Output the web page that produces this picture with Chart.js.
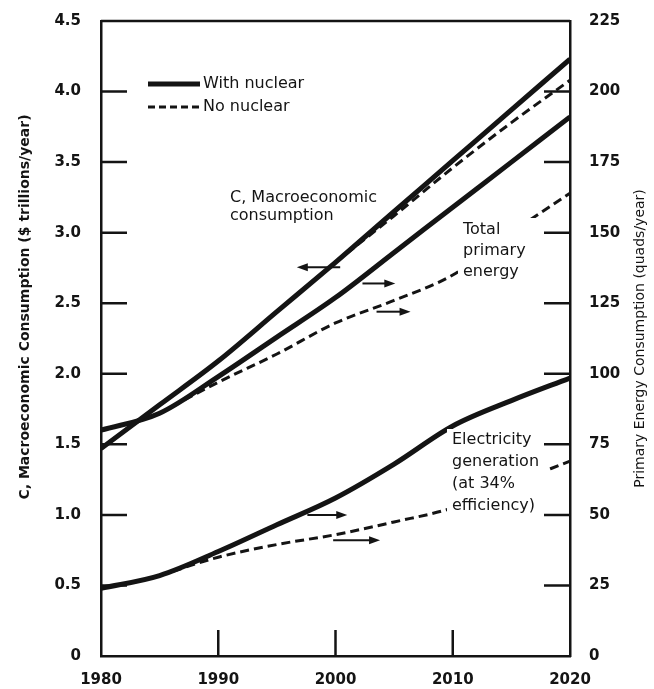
<!DOCTYPE html>
<html>
<head>
<meta charset="utf-8">
<script src="https://cdn.jsdelivr.net/npm/chart.js@4.4.1/dist/chart.umd.min.js"></script>
<style>
html, body { margin: 0; padding: 0; background: #fff; }
</style>
</head>
<body>
<canvas id="chart" width="654" height="689"></canvas>
<script>
// years on the x axis
var years = [1980, 1985, 1990, 1995, 2000, 2005, 2010, 2015, 2020];

// C, macroeconomic consumption ($ trillions/year) - left axis
var consWithNuclear = [1.47, 1.78, 2.09, 2.44, 2.79, 3.15, 3.51, 3.87, 4.23];
var consNoNuclear = [null, null, null, null, 2.79, 3.12, 3.46, 3.78, 4.08];

// total primary energy (quads/year) - right axis
var energyWithNuclear = [80, 86, 99, 113, 127, 143, 159, 175, 191];
var energyNoNuclear = [null, 86, 97, 107, 118, 126, 135, 150, 164];

// electricity generation at 34% efficiency (quads/year) - right axis
var elecWithNuclear = [24, 28.5, 37, 46.5, 56, 68, 81.5, 90.5, 98.5];
var elecNoNuclear = [null, 28.5, 35, 39.5, 43, 47.5, 52.5, 61, 69];

// tick labels
var xTicks = [1980, 1990, 2000, 2010, 2020];
var leftTicks = [0, 0.5, 1.0, 1.5, 2.0, 2.5, 3.0, 3.5, 4.0, 4.5];
var rightTicks = [0, 25, 50, 75, 100, 125, 150, 175, 200, 225];

var INK = '#141414';

function pts(arr) {
	return years.map(function(y, i) { return { x: y, y: arr[i] }; });
}

// arrows showing which axis a curve belongs to (data units)
var arrows = [
	{ axis: 'yL', y: 2.755, from: 2000.4, to: 1996.7 },
	{ axis: 'yR', y: 132, from: 2002.3, to: 2005.1 },
	{ axis: 'yR', y: 122, from: 2003.5, to: 2006.4 },
	{ axis: 'yR', y: 50, from: 1997.6, to: 2001.0 },
	{ axis: 'yR', y: 41, from: 1999.8, to: 2003.8 }
];

// text notes drawn over the plot
var notes = [
	{ x: 230, lines: ['C, Macroeconomic', 'consumption'], y0: 198, step: 18, box: null },
	{ x: 463, lines: ['Total', 'primary', 'energy'], y0: 230, step: 21, box: [458, 218, 87, 66] },
	{ x: 452, lines: ['Electricity', 'generation', '(at 34%', 'efficiency)'], y0: 440, step: 22, box: [447, 429, 99, 89] }
];

var extras = {
	id: 'extras',
	afterDatasetsDraw: function(chart) {
		var ctx = chart.ctx;
		var xs = chart.scales.x;
		ctx.save();
		// notes (white box hides the dashed line behind the text)
		notes.forEach(function(n) {
			if (n.box) {
				ctx.fillStyle = '#fff';
				ctx.fillRect(n.box[0], n.box[1], n.box[2], n.box[3]);
			}
			ctx.fillStyle = INK;
			ctx.font = '16px "DejaVu Sans"';
			ctx.textAlign = 'left';
			ctx.textBaseline = 'middle';
			n.lines.forEach(function(t, i) { ctx.fillText(t, n.x, n.y0 + i * n.step); });
		});
		// arrows
		arrows.forEach(function(a) {
			var ys = chart.scales[a.axis];
			var x1 = xs.getPixelForValue(a.from), x2 = xs.getPixelForValue(a.to);
			var y = ys.getPixelForValue(a.y);
			var dir = x2 > x1 ? 1 : -1;
			ctx.strokeStyle = INK;
			ctx.lineWidth = 2;
			ctx.beginPath();
			ctx.moveTo(x1, y);
			ctx.lineTo(x2 - dir * 8, y);
			ctx.stroke();
			ctx.fillStyle = INK;
			ctx.beginPath();
			ctx.moveTo(x2, y);
			ctx.lineTo(x2 - dir * 11, y - 4);
			ctx.lineTo(x2 - dir * 11, y + 4);
			ctx.closePath();
			ctx.fill();
		});
		// legend
		ctx.strokeStyle = INK;
		ctx.lineWidth = 5;
		ctx.beginPath(); ctx.moveTo(148, 84); ctx.lineTo(200, 84); ctx.stroke();
		ctx.lineWidth = 3;
		ctx.setLineDash([7, 4]);
		ctx.beginPath(); ctx.moveTo(148, 107); ctx.lineTo(200, 107); ctx.stroke();
		ctx.setLineDash([]);
		ctx.fillStyle = INK;
		ctx.font = '16px "DejaVu Sans"';
		ctx.textBaseline = 'middle';
		ctx.fillText('With nuclear', 203, 84);
		ctx.fillText('No nuclear', 203, 107);
		ctx.restore();
	},
	afterDraw: function(chart) {
		var ctx = chart.ctx;
		var ca = chart.chartArea;
		var xs = chart.scales.x, yl = chart.scales.yL, yr = chart.scales.yR;
		var len = 26;
		ctx.save();
		ctx.strokeStyle = INK;
		ctx.lineWidth = 2.5;
		ctx.beginPath();
		// frame top
		ctx.moveTo(ca.left, ca.top);
		ctx.lineTo(ca.right, ca.top);
		// inner tick marks
		leftTicks.slice(1, -1).forEach(function(v) {
			var p = yl.getPixelForValue(v);
			ctx.moveTo(ca.left, p); ctx.lineTo(ca.left + len, p);
		});
		rightTicks.slice(1, -1).forEach(function(v) {
			var p = yr.getPixelForValue(v);
			ctx.moveTo(ca.right, p); ctx.lineTo(ca.right - len, p);
		});
		xTicks.slice(1, -1).forEach(function(v) {
			var p = xs.getPixelForValue(v);
			ctx.moveTo(p, ca.bottom); ctx.lineTo(p, ca.bottom - len);
		});
		ctx.stroke();
		// axis titles
		ctx.fillStyle = INK;
		ctx.textAlign = 'center';
		ctx.textBaseline = 'middle';
		ctx.font = 'bold 14px "DejaVu Sans"';
		ctx.translate(25, 307);
		ctx.rotate(-Math.PI / 2);
		ctx.fillText('C, Macroeconomic Consumption ($ trillions/year)', 0, 0);
		ctx.setTransform(1, 0, 0, 1, 0, 0);
		ctx.font = '14px "DejaVu Sans"';
		ctx.translate(640, (ca.top + ca.bottom) / 2);
		ctx.rotate(-Math.PI / 2);
		ctx.fillText('Primary Energy Consumption (quads/year)', 0, 0);
		ctx.restore();
	}
};

function solid(data, axis) {
	return { data: pts(data), yAxisID: axis, borderColor: INK, borderWidth: 5, pointRadius: 0,
		cubicInterpolationMode: 'monotone', spanGaps: false };
}
function dashed(data, axis) {
	return { data: pts(data), yAxisID: axis, borderColor: INK, borderWidth: 3, borderDash: [9, 5],
		pointRadius: 0, cubicInterpolationMode: 'monotone', spanGaps: false };
}

var tickFont = { family: 'DejaVu Sans', size: 15, weight: 'bold' };

var ctx = document.getElementById('chart').getContext('2d');
var chart = new Chart(ctx, {
	type: 'line',
	data: {
		datasets: [
			solid(consWithNuclear, 'yL'),
			dashed(consNoNuclear, 'yL'),
			solid(energyWithNuclear, 'yR'),
			dashed(energyNoNuclear, 'yR'),
			solid(elecWithNuclear, 'yR'),
			dashed(elecNoNuclear, 'yR')
		]
	},
	options: {
		responsive: false,
		animation: false,
		layout: { padding: { top: 13, left: 0, right: 0, bottom: 0 } },
		plugins: { legend: { display: false }, tooltip: { enabled: false } },
		scales: {
			x: {
				type: 'linear', min: 1980, max: 2020,
				afterBuildTicks: function(s) { s.ticks = xTicks.map(function(v) { return { value: v }; }); },
				ticks: { color: INK, font: tickFont, padding: 7, maxRotation: 0,
					callback: function(v) { return String(v); } },
				grid: { display: false },
				border: { display: true, color: INK, width: 2.5 },
				afterFit: function(s) { s.height = 33; }
			},
			yL: {
				type: 'linear', position: 'left', min: 0, max: 4.5,
				afterBuildTicks: function(s) { s.ticks = leftTicks.map(function(v) { return { value: v }; }); },
				ticks: { color: INK, font: tickFont, padding: 12,
					callback: function(v) { return v === 0 ? '0' : v.toFixed(1); } },
				grid: { display: false },
				border: { display: true, color: INK, width: 2.5 },
				afterFit: function(s) { s.width = 101; }
			},
			yR: {
				type: 'linear', position: 'right', min: 0, max: 225,
				afterBuildTicks: function(s) { s.ticks = rightTicks.map(function(v) { return { value: v }; }); },
				ticks: { color: INK, font: tickFont, padding: 11,
					callback: function(v) { return String(v); } },
				grid: { display: false },
				border: { display: true, color: INK, width: 2.5 },
				afterFit: function(s) { s.width = 84; }
			}
		}
	},
	plugins: [extras]
});
</script>
</body>
</html>
